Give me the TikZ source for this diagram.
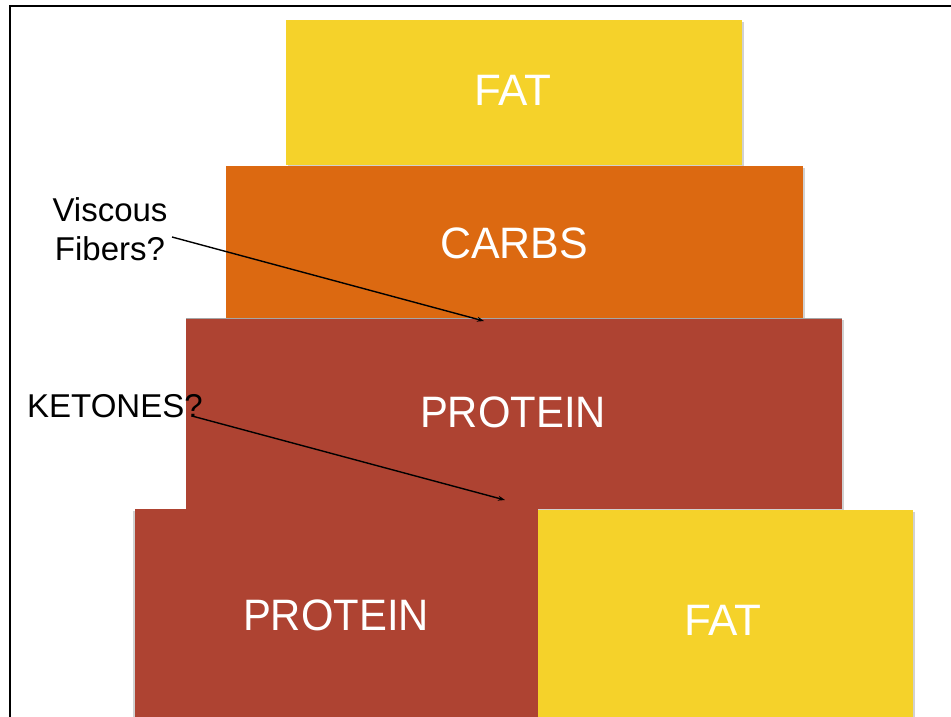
\documentclass[tikz,border=0pt]{standalone}
\usepackage{fontspec}
\setmainfont{Liberation Sans}
\usetikzlibrary{arrows.meta}
\definecolor{fatyellow}{HTML}{F5D22A}
\definecolor{carborange}{HTML}{DC6911}
\definecolor{protred}{HTML}{AE4332}
\tikzset{
  block/.style={fill=#1},
  shadowbox/.style={fill=black,opacity=0.18},
  bigtext/.style={text=white,font=\fontsize{44}{50}\selectfont,inner sep=0pt,anchor=base},
  notetext/.style={text=black,font=\fontsize{33}{39}\selectfont,inner sep=0pt},
  pointer/.style={-{Stealth[length=7pt,width=5pt]},line width=1.4pt,black},
  frameline/.style={line width=2.6pt,black}
}
\begin{document}
\begin{tikzpicture}[x=1pt,y=-1pt]
\useasboundingbox (0,0) rectangle (951,717);
\fill[white] (0,0) rectangle (951,717);
% frame
\draw[frameline] (10,717) -- (10,6) -- (951,6);
% top FAT
\fill[shadowbox] (288,22) rectangle (744,167);
\fill[block=fatyellow] (286,20) rectangle (742,165);
\node[bigtext] (fat1) at (513,106) {FAT};
% CARBS
\fill[shadowbox] (228,168) rectangle (805,320);
\fill[block=carborange] (226,166) rectangle (803,318);
\node[bigtext] (carbs) at (514,258) {\scalebox{0.975}[1]{CARBS}};
% PROTEIN top
\fill[shadowbox] (188,320) rectangle (844,511);
\fill[gray!70] (186,317.5) rectangle (842,319);
\fill[block=protred] (186,319) rectangle (842,509);
\node[bigtext] (prot1) at (513,427) {\scalebox{0.95}[1]{PROTEIN}};
% PROTEIN bottom
\fill[shadowbox] (133,511) rectangle (540,717);
\fill[block=protred] (135,509) rectangle (538,717);
\node[bigtext] (prot2) at (336,630) {\scalebox{0.95}[1]{PROTEIN}};
% FAT bottom
\fill[shadowbox] (540,512) rectangle (915,717);
\fill[block=fatyellow] (538,510) rectangle (913,717);
\node[bigtext] (fat2) at (723,635) {FAT};
% notes
\node[notetext,align=center,anchor=north] (viscous) at (110,197) {Viscous\\Fibers?};
\node[notetext,anchor=base west] (ketones) at (27,417) {KETONES?};
\coordinate (vstart) at (172,237);
\coordinate (vend) at (484,321);
\coordinate (kstart) at (192,416);
\coordinate (kend) at (505,500);
\draw[pointer] (vstart) -- (vend);
\draw[pointer] (kstart) -- (kend);
\end{tikzpicture}
\end{document}
